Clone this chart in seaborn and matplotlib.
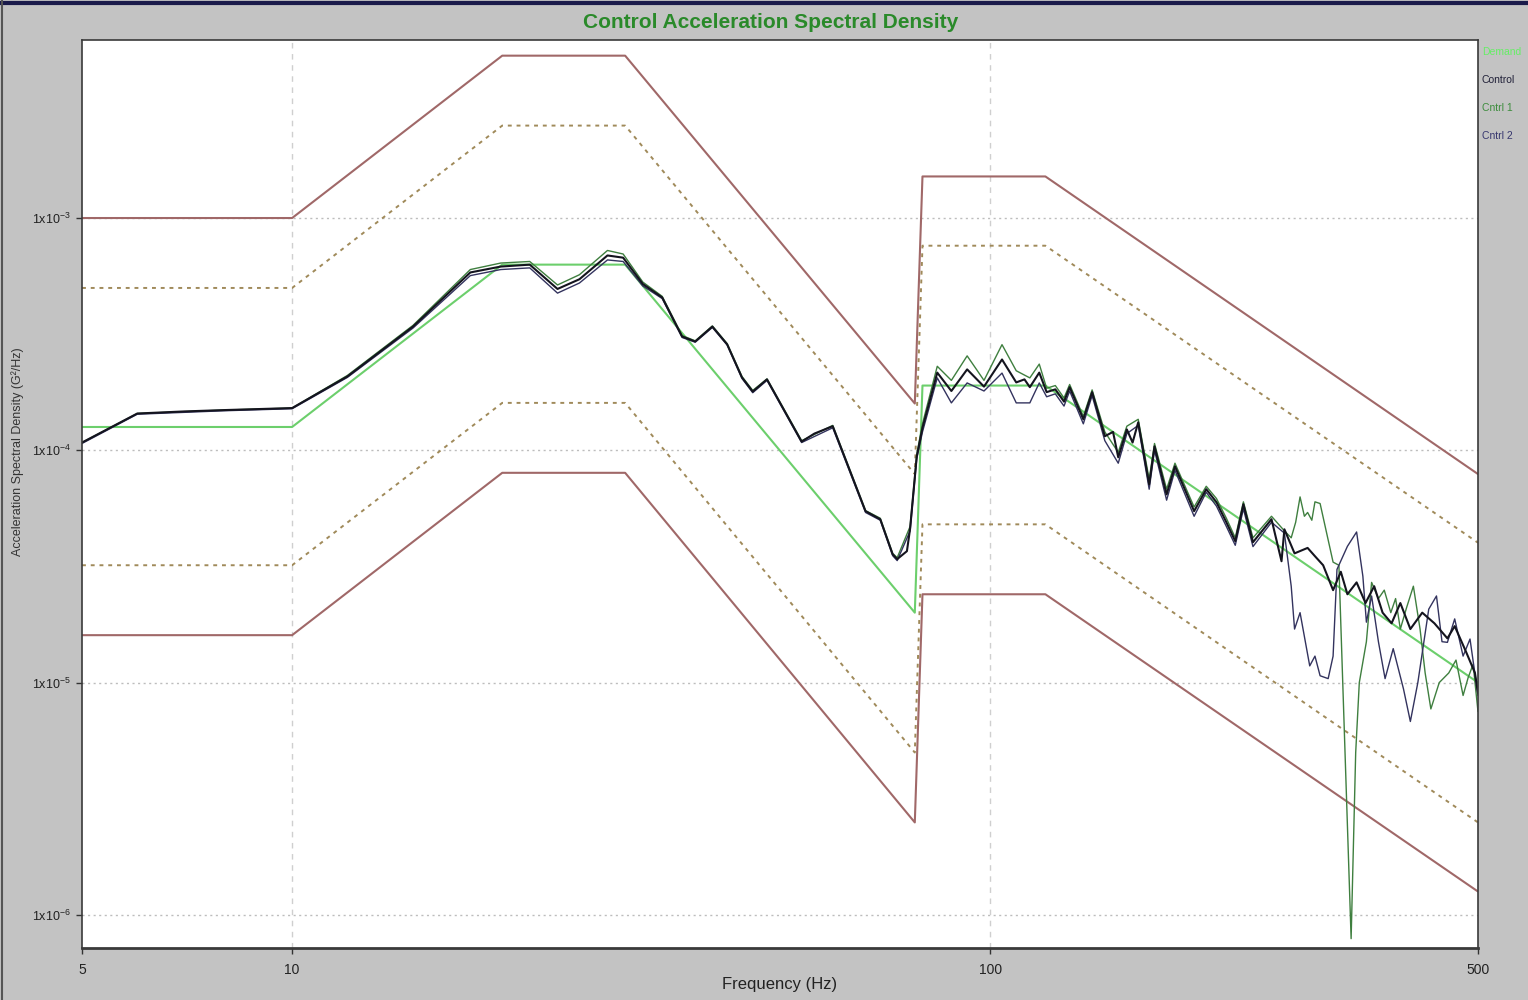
import numpy as np
import pandas as pd
import matplotlib
matplotlib.use("Agg")
import matplotlib.pyplot as plt
import seaborn as sns
from matplotlib.ticker import FixedLocator, NullFormatter, LogLocator
from matplotlib.lines import Line2D

# ---------------- data ----------------
demand_freq = [5, 10, 20, 30, 78, 80, 120, 500]
demand_psd = [1.26e-4, 1.26e-4, 6.3e-4, 6.3e-4, 2.0e-5, 1.9e-4, 1.9e-4, 1.0e-5]

abort_hi = [1.0e-3, 1.0e-3, 5.0e-3, 5.0e-3, 1.59e-4, 1.51e-3, 1.51e-3, 7.9e-5]
alarm_hi = [5.0e-4, 5.0e-4, 2.5e-3, 2.5e-3, 7.9e-5, 7.6e-4, 7.6e-4, 4.0e-5]
alarm_lo = [3.2e-5, 3.2e-5, 1.6e-4, 1.6e-4, 5.0e-6, 4.8e-5, 4.8e-5, 2.5e-6]
abort_lo = [1.6e-5, 1.6e-5, 8.0e-5, 8.0e-5, 2.5e-6, 2.4e-5, 2.4e-5, 1.26e-6]

control_freq = [5, 6, 7, 8, 10, 12, 14.9, 18, 19.9, 21.9, 24, 25.8, 28.3, 29.8, 31.8,
                33.9, 36.2, 37.8, 40, 42, 44.1, 45.7, 47.9, 53.7, 56, 59.5, 66.3, 69.6,
                72.5, 73.6, 76, 76.8, 78.5, 80, 84, 88, 92.7, 98, 104, 109, 112, 114,
                117.6, 120.5, 124, 127.6, 130, 136, 140, 146, 150, 152.6, 157, 160, 163,
                169, 172, 179, 184, 196, 204, 211, 218, 224.5, 230.6, 238, 253, 261.5,
                264, 273, 285, 292, 300, 310, 318, 325, 335, 345, 355, 365, 376, 387,
                400, 416, 433, 452, 463, 481, 495, 500]
control_psd = [1.08e-4, 1.44e-4, 1.47e-4, 1.49e-4, 1.52e-4, 2.08e-4, 3.41e-4, 5.83e-4,
               6.18e-4, 6.3e-4, 4.95e-4, 5.45e-4, 6.9e-4, 6.75e-4, 5.2e-4, 4.55e-4,
               3.09e-4, 2.94e-4, 3.41e-4, 2.86e-4, 2.06e-4, 1.79e-4, 2.02e-4, 1.09e-4,
               1.18e-4, 1.27e-4, 5.47e-5, 5.05e-5, 3.57e-5, 3.4e-5, 3.68e-5, 4.6e-5,
               9.4e-5, 1.25e-4, 2.16e-4, 1.8e-4, 2.23e-4, 1.88e-4, 2.46e-4, 1.96e-4,
               2.02e-4, 1.87e-4, 2.16e-4, 1.78e-4, 1.83e-4, 1.62e-4, 1.87e-4, 1.36e-4,
               1.78e-4, 1.15e-4, 1.2e-4, 9.33e-5, 1.23e-4, 1.08e-4, 1.32e-4, 7.14e-5,
               1.04e-4, 6.46e-5, 8.53e-5, 5.47e-5, 6.8e-5, 5.98e-5, 4.9e-5, 4.06e-5,
               5.86e-5, 4.02e-5, 5.05e-5, 3.33e-5, 4.57e-5, 3.6e-5, 3.8e-5, 3.5e-5,
               3.2e-5, 2.5e-5, 3.0e-5, 2.4e-5, 2.7e-5, 2.2e-5, 2.6e-5, 2.0e-5, 1.8e-5,
               2.2e-5, 1.7e-5, 2.0e-5, 1.8e-5, 1.55e-5, 1.75e-5, 1.35e-5, 1.1e-5, 9.0e-6]

cntrl1_freq = [5, 6, 8, 10, 12, 14.9, 18, 19.9, 21.9, 24, 25.8, 28.3, 29.8, 31.8, 33.9,
               36.2, 37.8, 40, 42, 44.1, 45.7, 47.9, 53.7, 59.5, 66.3, 69.6, 72.5, 73.6,
               76.8, 78.5, 80, 84, 88, 92.7, 98, 104, 109, 114, 117.6, 120.5, 124, 127.6,
               130, 136, 140, 146, 152.6, 157, 163, 169, 172, 179, 184, 196, 204, 211,
               218, 224.5, 230.6, 238, 253, 264, 270, 274, 278, 282, 285, 289, 292, 297,
               304, 310, 316, 329, 334, 338, 346, 352, 360, 367, 375, 381, 387, 395, 404,
               413, 420, 428, 440, 454, 465, 476, 484, 492, 500]
cntrl1_psd = [1.08e-4, 1.44e-4, 1.49e-4, 1.52e-4, 2.1e-4, 3.45e-4, 6.0e-4, 6.4e-4,
              6.5e-4, 5.15e-4, 5.7e-4, 7.25e-4, 7.0e-4, 5.3e-4, 4.6e-4, 3.12e-4, 2.96e-4,
              3.43e-4, 2.88e-4, 2.08e-4, 1.81e-4, 2.03e-4, 1.1e-4, 1.28e-4, 5.5e-5, 5.1e-5,
              3.6e-5, 3.45e-5, 4.7e-5, 9.6e-5, 1.3e-4, 2.3e-4, 2.0e-4, 2.55e-4, 2.0e-4,
              2.85e-4, 2.2e-4, 2.05e-4, 2.35e-4, 1.85e-4, 1.9e-4, 1.68e-4, 1.92e-4, 1.4e-4,
              1.82e-4, 1.2e-4, 9.8e-5, 1.27e-4, 1.36e-4, 7.5e-5, 1.07e-4, 6.8e-5, 8.8e-5,
              5.7e-5, 7.0e-5, 6.2e-5, 5.1e-5, 4.2e-5, 6.0e-5, 4.2e-5, 5.2e-5, 4.5e-5,
              4.2e-5, 4.9e-5, 6.3e-5, 5.2e-5, 5.4e-5, 5.0e-5, 6.0e-5, 5.9e-5, 4.3e-5,
              3.3e-5, 3.2e-5, 7.9e-7, 5.0e-6, 1.0e-5, 1.5e-5, 2.7e-5, 2.3e-5, 2.5e-5,
              2.0e-5, 2.3e-5, 1.7e-5, 2.1e-5, 2.6e-5, 1.7e-5, 1.1e-5, 7.7e-6, 1.0e-5,
              1.1e-5, 1.25e-5, 8.8e-6, 1.05e-5, 1.2e-5, 7.5e-6]

cntrl2_freq = [5, 6, 8, 10, 12, 14.9, 18, 19.9, 21.9, 24, 25.8, 28.3, 29.8, 31.8, 33.9,
               36.2, 37.8, 40, 42, 44.1, 45.7, 47.9, 53.7, 59.5, 66.3, 69.6, 72.5, 73.6,
               76.8, 78.5, 80, 84, 88, 92.7, 98, 104, 109, 114, 117.6, 120.5, 124, 127.6,
               130, 136, 140, 146, 152.6, 157, 163, 169, 172, 179, 184, 196, 204, 211,
               218, 224.5, 230.6, 238, 253, 264, 270, 273, 278, 287, 292, 297, 305, 310,
               314, 325, 335, 342, 346, 352, 360, 368, 378, 391, 400, 410, 425, 436, 444,
               452, 463, 476, 487, 500]
cntrl2_psd = [1.07e-4, 1.43e-4, 1.48e-4, 1.51e-4, 2.06e-4, 3.36e-4, 5.65e-4, 6.0e-4,
              6.1e-4, 4.75e-4, 5.25e-4, 6.6e-4, 6.5e-4, 5.1e-4, 4.5e-4, 3.06e-4, 2.92e-4,
              3.38e-4, 2.84e-4, 2.04e-4, 1.77e-4, 2.0e-4, 1.08e-4, 1.25e-4, 5.4e-5, 5.0e-5,
              3.52e-5, 3.35e-5, 4.5e-5, 9.2e-5, 1.2e-4, 2.05e-4, 1.6e-4, 1.95e-4, 1.8e-4,
              2.15e-4, 1.6e-4, 1.6e-4, 1.95e-4, 1.7e-4, 1.75e-4, 1.55e-4, 1.8e-4, 1.3e-4,
              1.72e-4, 1.1e-4, 8.8e-5, 1.18e-4, 1.28e-4, 6.8e-5, 1.0e-4, 6.1e-5, 8.2e-5,
              5.2e-5, 6.6e-5, 5.75e-5, 4.7e-5, 3.9e-5, 5.6e-5, 3.85e-5, 4.9e-5, 4.4e-5,
              2.6e-5, 1.7e-5, 2.0e-5, 1.18e-5, 1.3e-5, 1.07e-5, 1.04e-5, 1.3e-5, 3.07e-5,
              3.86e-5, 4.45e-5, 2.87e-5, 1.82e-5, 2.36e-5, 1.5e-5, 1.04e-5, 1.4e-5,
              9.4e-6, 6.8e-6, 1.0e-5, 2.07e-5, 2.36e-5, 1.5e-5, 1.49e-5, 1.88e-5, 1.3e-5,
              1.54e-5, 8.8e-6]

x_ticks = [5, 10, 100, 500]
x_tick_labels = ["5", "10", "100", "500"]
y_ticks = [1e-6, 1e-5, 1e-4, 1e-3]
y_tick_labels = ["1x10$^{-6}$", "1x10$^{-5}$", "1x10$^{-4}$", "1x10$^{-3}$"]
legend_names = ["Demand", "Control", "Cntrl 1", "Cntrl 2"]

# ---------------- style ----------------
sns.set_theme(style="white")
plt.rcParams["font.family"] = ["Liberation Sans", "DejaVu Sans"]
plt.rcParams["mathtext.fontset"] = "custom"
plt.rcParams["mathtext.rm"] = "Liberation Sans"

BG = "#c3c3c3"
fig = plt.figure(figsize=(15.28, 10.0), dpi=100, facecolor=BG)
ax = fig.add_axes([82 / 1528, 52 / 1000, (1478 - 82) / 1528, (948 - 40) / 1000])
ax.set_facecolor("white")
ax.set_xscale("log")
ax.set_yscale("log")

def frame(f, v):
    return pd.DataFrame({"f": f, "v": v})

abort_col = "#a06868"
alarm_col = "#a08a5a"
for lim in (abort_hi, abort_lo):
    sns.lineplot(data=frame(demand_freq, lim), x="f", y="v", ax=ax, color=abort_col,
                 lw=1.5, estimator=None, sort=False)
for lim in (alarm_hi, alarm_lo):
    sns.lineplot(data=frame(demand_freq, lim), x="f", y="v", ax=ax, color=alarm_col,
                 lw=1.4, linestyle=(0, (2, 2.5)), estimator=None, sort=False)

sns.lineplot(data=frame(demand_freq, demand_psd), x="f", y="v", ax=ax, color="#6ccf6c",
             lw=1.5, estimator=None, sort=False)
sns.lineplot(data=frame(cntrl1_freq, cntrl1_psd), x="f", y="v", ax=ax, color="#3f7f3f",
             lw=1.0, estimator=None, sort=False)
sns.lineplot(data=frame(cntrl2_freq, cntrl2_psd), x="f", y="v", ax=ax, color="#33335e",
             lw=1.0, estimator=None, sort=False)
sns.lineplot(data=frame(control_freq, control_psd), x="f", y="v", ax=ax, color="#14141e",
             lw=1.5, estimator=None, sort=False)

ax.set_xlim(5, 500)
ax.set_ylim(7.2e-7, 5.84e-3)
ax.set_xlabel("")
ax.set_ylabel("")

# grid
for yv in y_ticks:
    ax.axhline(yv, color="#bdbdbd", lw=1.0, linestyle=(0, (1.5, 2.5)), zorder=0)
for xv in (10, 100):
    ax.axvline(xv, color="#cfcfcf", lw=1.0, linestyle=(0, (4, 4)), zorder=0)

ax.xaxis.set_major_locator(FixedLocator(x_ticks))
ax.set_xticklabels(x_tick_labels)
ax.xaxis.set_minor_locator(LogLocator(base=10, subs=np.arange(2, 10)))
ax.xaxis.set_minor_formatter(NullFormatter())
ax.yaxis.set_major_locator(FixedLocator(y_ticks))
ax.set_yticklabels(y_tick_labels)
ax.yaxis.set_minor_locator(LogLocator(base=10, subs=np.arange(2, 10)))
ax.yaxis.set_minor_formatter(NullFormatter())
ax.tick_params(axis="both", which="major", direction="out", length=4, width=1,
               color="#333333", labelsize=9, labelcolor="#222222", pad=4)
ax.tick_params(axis="both", which="minor", direction="out", length=2.5, width=1,
               color="#333333")
ax.tick_params(axis="x", bottom=True, labelsize=10, pad=7)
ax.tick_params(axis="y", left=True)

for side, sp in ax.spines.items():
    sp.set_visible(True)
    sp.set_color("#3a3a3a")
    sp.set_linewidth(1.2)
ax.spines["bottom"].set_linewidth(2.0)

fig.text(780 / 1528, 1 - 985 / 1000, "Frequency (Hz)", ha="center", va="center",
         fontsize=12, color="#222222")
fig.text(18 / 1528, 1 - 452 / 1000, "Acceleration Spectral Density (G²/Hz)",
         ha="center", va="center", rotation=90, fontsize=9, color="#333333")
fig.text(771 / 1528, 1 - 23 / 1000, "Control Acceleration Spectral Density",
         ha="center", va="center", fontsize=15, fontweight="bold", color="#2a8a2a")

legend_colors = ["#66ee66", "#202038", "#3c8c3c", "#36366e"]
for i, (name, col) in enumerate(zip(legend_names, legend_colors)):
    fig.text(1482 / 1528, 1 - (52 + 28 * i) / 1000, name, ha="left", va="center",
             fontsize=7.5, color=col)

fig.add_artist(Line2D([0, 1], [0.997, 0.997], color="#1a1a4a", lw=3,
                      transform=fig.transFigure))
fig.add_artist(Line2D([0.001, 0.001], [0, 1], color="#555555", lw=1.5,
                      transform=fig.transFigure))

fig.savefig("out.png", dpi=100, facecolor=BG)
